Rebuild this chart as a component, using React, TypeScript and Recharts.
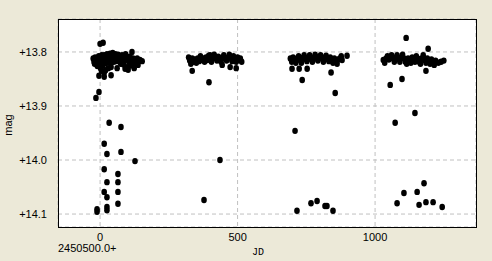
import React from "react";
import {
  ScatterChart,
  Scatter,
  XAxis,
  YAxis,
  CartesianGrid,
} from "recharts";

// JD offsets from 2450500.0 and magnitudes, one array per season
const season1: [number, number][] = [
  [-25, 13.812], [-22, 13.818], [-20, 13.822], [-18, 13.81], [-15, 13.815], [-12, 13.82],
  [-10, 13.826], [-8, 13.812], [-5, 13.808], [-3, 13.817], [0, 13.822], [2, 13.83],
  [4, 13.812], [6, 13.806], [8, 13.818], [10, 13.825], [12, 13.81], [15, 13.806],
  [18, 13.815], [20, 13.821], [22, 13.81], [25, 13.804], [28, 13.812], [30, 13.819],
  [33, 13.808], [36, 13.803], [38, 13.814], [40, 13.82], [43, 13.807], [46, 13.802],
  [48, 13.813], [50, 13.818], [53, 13.806], [56, 13.804], [58, 13.812], [60, 13.817],
  [63, 13.808], [66, 13.805], [70, 13.811], [73, 13.816], [76, 13.809], [80, 13.806],
  [83, 13.812], [86, 13.818], [90, 13.808], [93, 13.804], [96, 13.813], [100, 13.81],
  [104, 13.816], [108, 13.809], [112, 13.812], [116, 13.818], [120, 13.812], [125, 13.815],
  [130, 13.82], [135, 13.812], [140, 13.817], [145, 13.815], [153, 13.817], [138, 13.824],
  [124, 13.83], [102, 13.833], [91, 13.831], [62, 13.83], [116, 13.8], [105, 13.819],
  [5, 13.835], [15, 13.838], [20, 13.834], [30, 13.83], [40, 13.828], [75, 13.822],
  [85, 13.823], [95, 13.828], [110, 13.825], [120, 13.822],
  [0, 13.785], [11, 13.783], [-15, 13.885], [-4, 13.874], [-4, 13.844], [15, 13.846],
  [40, 13.843], [33, 13.931], [76, 13.939], [15, 13.97], [25, 13.989], [76, 13.985],
  [127, 14.002], [15, 14.017], [65, 14.026], [25, 14.041], [65, 14.041], [15, 14.059],
  [25, 14.069], [65, 14.059], [65, 14.081], [-11, 14.091], [-11, 14.096], [25, 14.087],
  [25, 14.093],
];

const season2: [number, number][] = [
  [322, 13.81], [326, 13.816], [330, 13.822], [335, 13.812], [340, 13.818], [345, 13.814],
  [350, 13.82], [355, 13.812], [360, 13.817], [365, 13.808], [370, 13.815], [375, 13.812],
  [380, 13.818], [385, 13.81], [390, 13.815], [395, 13.807], [400, 13.812], [405, 13.818],
  [410, 13.812], [415, 13.805], [420, 13.811], [425, 13.816], [430, 13.809], [435, 13.813],
  [440, 13.818], [445, 13.81], [450, 13.806], [455, 13.812], [460, 13.816], [465, 13.81],
  [470, 13.805], [475, 13.812], [480, 13.817], [485, 13.808], [490, 13.813], [495, 13.818],
  [500, 13.81], [505, 13.815], [510, 13.812], [515, 13.818], [400, 13.806], [444, 13.824],
  [473, 13.828], [495, 13.83],
  [335, 13.835], [396, 13.856], [436, 14.0], [378, 14.074],
];

const season3: [number, number][] = [
  [692, 13.812], [697, 13.818], [702, 13.81], [707, 13.815], [712, 13.82], [717, 13.812],
  [722, 13.808], [727, 13.815], [732, 13.82], [737, 13.811], [742, 13.806], [747, 13.812],
  [752, 13.817], [757, 13.81], [762, 13.806], [767, 13.813], [772, 13.818], [777, 13.81],
  [782, 13.805], [787, 13.812], [792, 13.816], [797, 13.809], [802, 13.806], [807, 13.812],
  [812, 13.818], [817, 13.81], [822, 13.807], [827, 13.812], [832, 13.817], [837, 13.81],
  [842, 13.815], [847, 13.82], [852, 13.812], [857, 13.817], [862, 13.822], [867, 13.814],
  [872, 13.812], [877, 13.808], [880, 13.815], [898, 13.807],
  [698, 13.831], [724, 13.831], [753, 13.831], [840, 13.838], [735, 13.852], [855, 13.876],
  [709, 13.946], [716, 14.094], [767, 14.08], [789, 14.076], [818, 14.085], [825, 14.085],
  [847, 14.094],
];

const season4: [number, number][] = [
  [1030, 13.815], [1035, 13.82], [1040, 13.812], [1045, 13.808], [1050, 13.814], [1055, 13.81],
  [1060, 13.806], [1065, 13.812], [1070, 13.818], [1075, 13.81], [1080, 13.806], [1085, 13.813],
  [1090, 13.818], [1095, 13.81], [1100, 13.805], [1105, 13.812], [1110, 13.818], [1115, 13.822],
  [1120, 13.812], [1125, 13.816], [1130, 13.82], [1135, 13.81], [1140, 13.814], [1145, 13.818],
  [1150, 13.808], [1155, 13.812], [1160, 13.818], [1165, 13.822], [1170, 13.812], [1175, 13.806],
  [1180, 13.815], [1185, 13.82], [1190, 13.812], [1195, 13.818], [1200, 13.822], [1205, 13.814],
  [1210, 13.819], [1215, 13.824], [1220, 13.816], [1230, 13.82], [1240, 13.818], [1250, 13.816],
  [1113, 13.774], [1193, 13.794], [1055, 13.861], [1098, 13.85], [1185, 13.835], [1145, 13.913],
  [1073, 13.931], [1080, 14.08], [1105, 14.061], [1153, 14.059], [1178, 14.043], [1160, 14.083],
  [1185, 14.078], [1211, 14.078], [1244, 14.087],
];

const xTicks = [0, 500, 1000];
const yTicks = [13.8, 13.9, 14.0, 14.1];
const jdZero = "2450500.0+";

const toPoints = (rows: [number, number][]) => rows.map(([jd, mag]) => ({ jd, mag }));

const Dot = (props: any) => {
  const { cx, cy } = props;
  if (cx == null || cy == null) return null;
  return <ellipse cx={cx} cy={cy} rx={2.8} ry={3.2} fill="#000" />;
};

const font = "'Liberation Sans', Arial, sans-serif";

export default function App() {
  const seasons = [season1, season2, season3, season4];
  return (
    <div
      style={{
        position: "absolute",
        left: 0,
        top: 0,
        width: 492,
        height: 261,
        background: "#ECE9D8",
        fontFamily: font,
      }}
    >
      <ScatterChart
        width={492}
        height={261}
        margin={{ top: 19, right: 16, bottom: 0, left: 0 }}
      >
        <CartesianGrid fill="#fff" stroke="#c0c0c0" strokeDasharray="4 3" />
        <XAxis
          type="number"
          dataKey="jd"
          domain={[-153, 1367]}
          ticks={xTicks}
          allowDataOverflow
          height={34}
          axisLine={false}
          tickLine={false}
          tickSize={0}
          tickMargin={6}
          tick={{ fill: "#000", fontSize: 11, fontFamily: font }}
        />
        <YAxis
          type="number"
          dataKey="mag"
          reversed
          domain={[13.739, 14.124]}
          ticks={yTicks}
          allowDataOverflow
          width={58}
          axisLine={false}
          tickLine={false}
          tickSize={0}
          tickMargin={11}
          tickFormatter={(v: number) => `+${v.toFixed(1)}`}
          tick={{ fill: "#000", fontSize: 11, fontFamily: font }}
        />
        {seasons.map((s, i) => (
          <Scatter
            key={i}
            data={toPoints(s)}
            shape={<Dot />}
            isAnimationActive={false}
          />
        ))}
      </ScatterChart>
      <div
        style={{
          position: "absolute",
          left: 58,
          top: 19,
          width: 419,
          height: 209,
          boxSizing: "border-box",
          border: "1px solid #000",
          pointerEvents: "none",
        }}
      />
      <div style={{ position: "absolute", left: 58, top: 242, fontSize: 11, color: "#000" }}>
        {jdZero}
      </div>
      <div
        style={{
          position: "absolute",
          left: 252,
          top: 247,
          fontSize: 10,
          fontFamily: "'Liberation Mono', 'DejaVu Sans Mono', monospace",
          color: "#000",
        }}
      >
        JD
      </div>
      <div
        style={{
          position: "absolute",
          left: -4,
          top: 119,
          fontSize: 11,
          color: "#000",
          transform: "rotate(-90deg)",
          width: 24,
          textAlign: "center",
        }}
      >
        mag
      </div>
    </div>
  );
}
